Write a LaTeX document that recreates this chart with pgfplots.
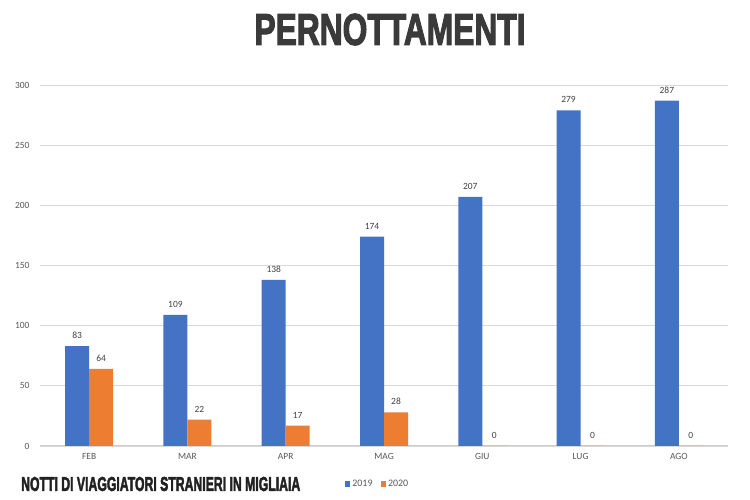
\documentclass[border=0pt]{standalone}
\usepackage{fontspec}
\usepackage{graphicx}
\usepackage{pgfplots}
\pgfplotsset{compat=1.18}
\setmainfont{Carlito}
\newfontfamily\headfont[BoldFeatures={FakeBold=3}]{Liberation Sans}
\definecolor{blu}{HTML}{4472C4}
\definecolor{ora}{HTML}{ED7D31}
\definecolor{tick}{HTML}{595959}
\definecolor{lab}{HTML}{404040}
\definecolor{grid}{HTML}{D9D9D9}
\definecolor{head}{HTML}{3A3A3A}
\begin{document}
\begin{tikzpicture}[x=1bp,y=1bp]
\path[use as bounding box, fill=white] (0,0) rectangle (750,500);
\begin{axis}[
  at={(40bp,54bp)}, anchor=south west,
  scale only axis, width=688bp, height=361bp,
  xmin=-0.5, xmax=6.5, ymin=0, ymax=300,
  ybar=0pt, bar width=24bp,
  xtick={0,...,6},
  xticklabels={FEB,MAR,APR,MAG,GIU,LUG,AGO},
  ytick={0,50,...,300},
  axis x line*=bottom, axis y line*=left,
  x axis line style={draw=grid!85!gray, line width=1bp, -},
  y axis line style={draw=none},
  major tick length=0pt,
  xmajorgrids=false, ymajorgrids=true, grid style={draw=grid, line width=0.8bp},
  tick label style={font=\fontsize{9.5}{11}\selectfont, text=tick},
  /pgf/number format/assume math mode=true,
  yticklabel style={xshift=-7bp},
  xticklabel style={yshift=-4bp},
  nodes near coords,
  nodes near coords style={font=\fontsize{9.5}{11}\selectfont, text=lab, yshift=4bp},
  legend style={at={(0.4906,-30bp)}, anchor=north, draw=none, fill=none,
    font=\fontsize{10}{12}\selectfont\color{tick}, legend columns=2,
    /tikz/every even column/.append style={column sep=6bp}},
  legend image code/.code={\fill[#1] (0bp,-2.7bp) rectangle (5.5bp,2.7bp);},
  clip=false,
]
\addplot[fill=blu, draw=none] coordinates {(0,83) (1,109) (2,138) (3,174) (4,207) (5,279) (6,287)};
\addplot[fill=ora, draw=none] coordinates {(0,64) (1,22) (2,17) (3,28) (4,0) (5,0) (6,0)};
\legend{2019,2020}
\end{axis}
\node[anchor=center, text=head, inner sep=0] at (390,470.5) {\resizebox{271bp}{31bp}{\headfont\bfseries PERNOTTAMENTI}};
\node[anchor=west, text=black!87, inner sep=0] at (21,16) {\resizebox{279bp}{14bp}{\headfont\bfseries NOTTI DI VIAGGIATORI STRANIERI IN MIGLIAIA}};
\end{tikzpicture}
\end{document}
